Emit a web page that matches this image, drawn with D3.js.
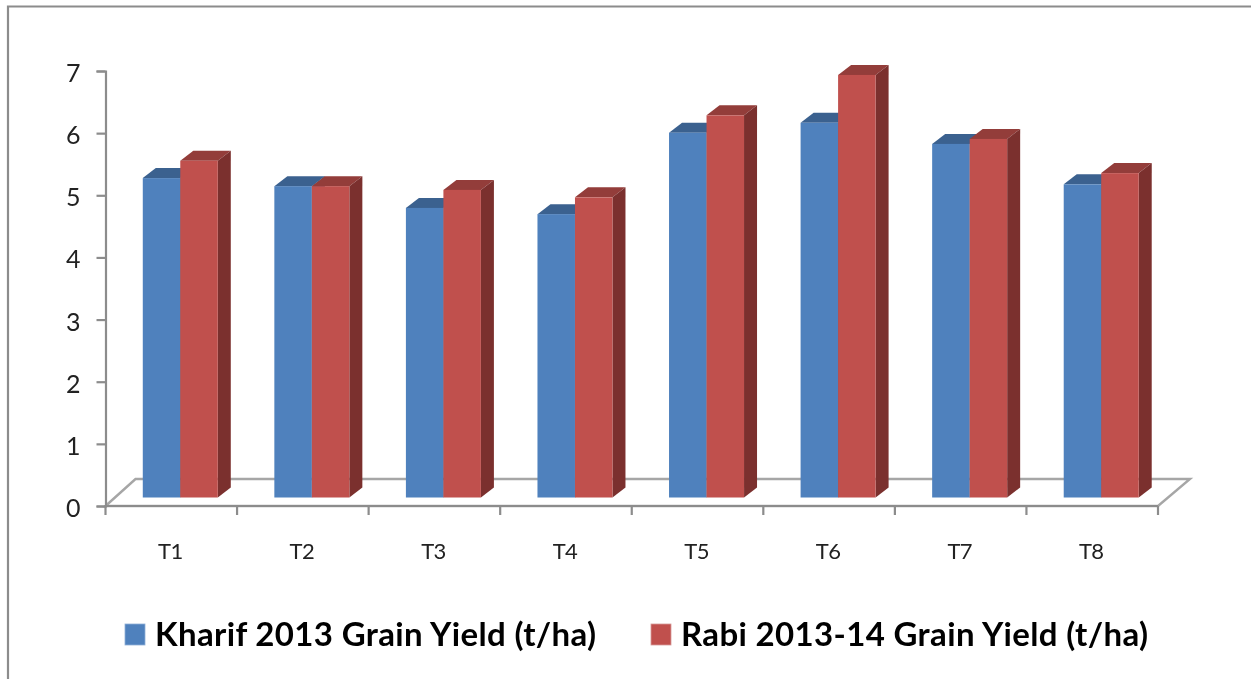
<!DOCTYPE html>
<html>
<head>
<style>
  html, body { margin: 0; padding: 0; background: #fff; overflow: hidden; }
  svg { display: block; filter: blur(0.45px); }
  text { font-family: Lato, "Open Sans", sans-serif; fill: #222; }
</style>
<script src="https://d3js.org/d3.v7.min.js"></script>
</head>
<body>
<svg id="chart" width="1251" height="679"></svg>
<script>
var categories = ["T1", "T2", "T3", "T4", "T5", "T6", "T7", "T8"];
var kharif = [5.14, 5.01, 4.66, 4.56, 5.87, 6.03, 5.69, 5.04];
var rabi = [5.42, 5.01, 4.95, 4.83, 6.15, 6.80, 5.77, 5.22];
var seriesNames = ["Kharif 2013 Grain Yield (t/ha)", "Rabi 2013-14 Grain Yield (t/ha)"];
var yTicks = [0, 1, 2, 3, 4, 5, 6, 7];

var svg = d3.select("#chart");
var gray = "#8c8c8c";

// outer frame, runs off the right and bottom of the picture
svg.append("path")
   .attr("d", "M8,679V6.5H1251")
   .attr("fill", "none").attr("stroke", gray).attr("stroke-width", 2.2);

var x = d3.scaleBand().domain(categories).range([105.5, 1158]);
var y = d3.scaleLinear().domain([0, 7]).range([506, 71]);

// 3d offsets: floor depth, and where the bars stand on it
var depth = {dx: 30, dy: 27};
var barShift = {dx: 9, dy: 8.5};
var face = {dx: 13, dy: 10};
var barW = 37.5;

// floor
svg.append("path")
   .attr("d", "M" + x.range()[0] + "," + y(0) + "l" + depth.dx + "," + (-depth.dy) +
        "H" + (x.range()[1] + depth.dx + 2) + "L" + x.range()[1] + "," + y(0) + "Z")
   .attr("fill", "#fff").attr("stroke", "#a6a6a6").attr("stroke-width", 2.4);

// axes
var axisY = svg.append("g")
   .attr("transform", "translate(" + x.range()[0] + ",0)")
   .call(d3.axisLeft(y).tickValues(yTicks).tickFormat(d3.format("d")).tickSize(9).tickPadding(16).tickSizeOuter(9));
axisY.selectAll("text").attr("font-size", 25).attr("dy", "0.42em");

var axisX = svg.append("g")
   .attr("transform", "translate(0," + y(0) + ")");
axisX.append("path")
   .attr("d", "M" + x.range()[0] + ",0H" + x.range()[1]);
axisX.selectAll(".tk")
   .data(categories.concat(["end"]))
   .enter().append("path")
   .attr("class", "tk")
   .attr("d", function(d, i) { return "M" + (x.range()[0] + i * x.step()) + ",0v9"; });
axisX.selectAll(".lab")
   .data(categories)
   .enter().append("text")
   .attr("class", "lab")
   .attr("x", function(d) { return x(d) + x.bandwidth() / 2 - 1; })
   .attr("y", 53)
   .attr("text-anchor", "middle")
   .attr("font-size", 22)
   .attr("letter-spacing", "-0.6")
   .text(function(d) { return d; });

svg.selectAll(".domain, .tick line").attr("stroke", gray).attr("stroke-width", 2.2);
axisX.selectAll("path").attr("stroke", gray).attr("stroke-width", 2.2).attr("fill", "none");

// bars, drawn per category so the red one sits over the blue one's side
var palettes = [
    {front: "#4f81bd", top: "#3b618f", side: "#2f4d71", edge: "#8fb0d8"},
    {front: "#c0504d", top: "#933d3a", side: "#7b302e", edge: "#d69a98"}
];
var base = y(0) - barShift.dy;
function h(v) { return y(0) - y(v); }

var groups = svg.selectAll(".cat")
   .data(categories)
   .enter().append("g")
   .attr("class", "cat");

groups.each(function(c, i) {
    var g = d3.select(this);
    [kharif[i], rabi[i]].forEach(function(v, s) {
        var x0 = x(c) + x.bandwidth() / 2 - barW + barShift.dx + s * barW;
        var top = base - h(v);
        var p = palettes[s];
        g.append("path")
         .attr("d", "M" + x0 + "," + top + "l" + face.dx + "," + (-face.dy) + "h" + barW +
              "l" + (-face.dx) + "," + face.dy + "Z")
         .attr("fill", p.top);
        g.append("path")
         .attr("d", "M" + (x0 + barW) + "," + top + "l" + face.dx + "," + (-face.dy) +
              "V" + (base - face.dy) + "l" + (-face.dx) + "," + face.dy + "Z")
         .attr("fill", p.side);
        g.append("rect")
         .attr("x", x0).attr("y", top)
         .attr("width", barW).attr("height", h(v))
         .attr("fill", p.front);
    });
});

// legend
var legendX = [125, 651];
seriesNames.forEach(function(name, s) {
    svg.append("rect")
       .attr("x", legendX[s]).attr("y", 624)
       .attr("width", 20).attr("height", 21)
       .attr("fill", palettes[s].front)
       .attr("stroke", palettes[s].edge).attr("stroke-width", 0.8);
    svg.append("text")
       .attr("x", legendX[s] + 30).attr("y", 646)
       .attr("font-size", 33).attr("font-weight", 700)
       .attr("letter-spacing", "0.35")
       .style("fill", "#000")
       .text(name);
});
</script>
</body>
</html>
